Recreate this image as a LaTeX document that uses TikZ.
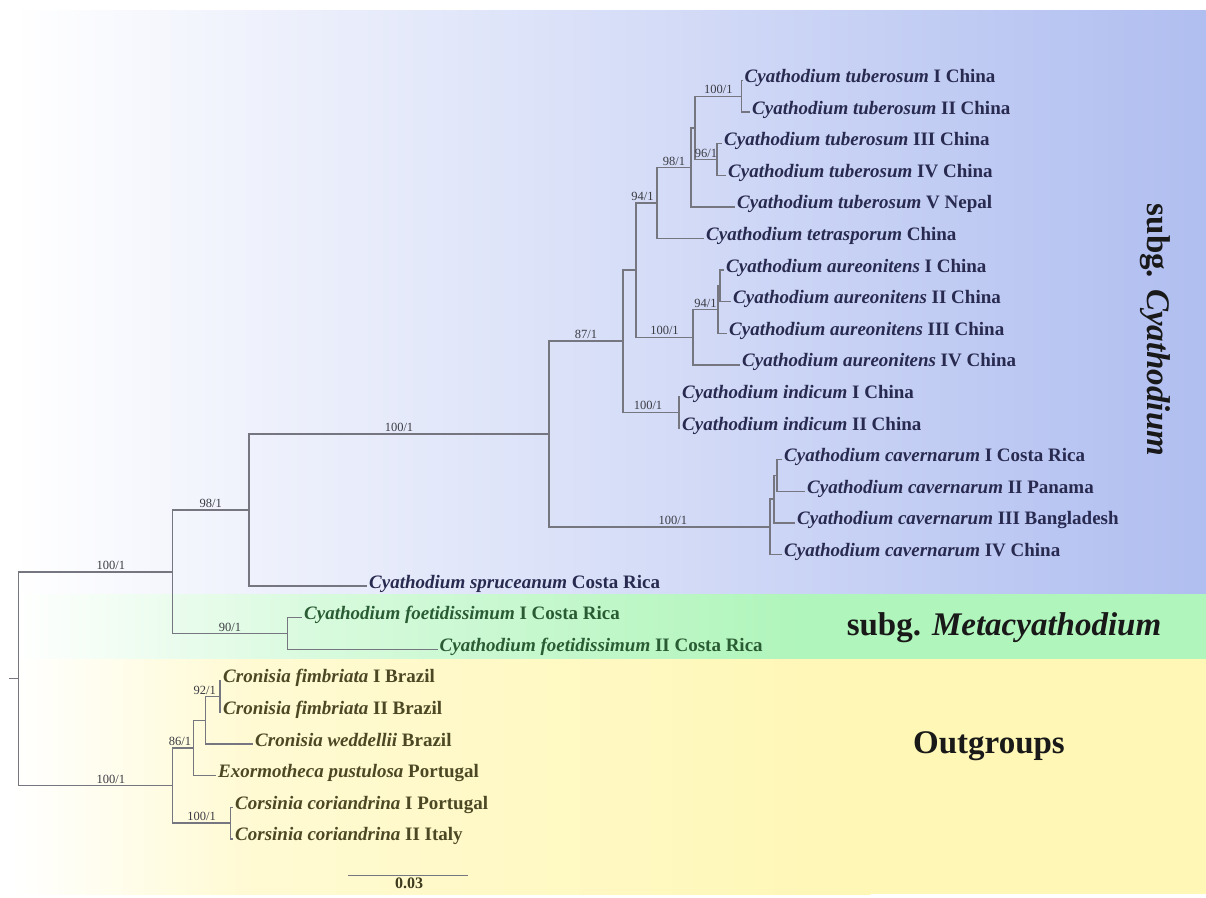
\documentclass[tikz,border=0pt]{standalone}
\usepackage{fontspec}
\setmainfont{Liberation Serif}
\usepackage{xcolor}
\usepackage{tikz}

\definecolor{bandblue}{RGB}{176,190,240}
\definecolor{bandgreen}{RGB}{176,245,187}
\definecolor{bandyellow}{RGB}{255,247,181}
\definecolor{branchgray}{RGB}{118,118,128}
\definecolor{navytext}{RGB}{40,42,80}
\definecolor{greentext}{RGB}{42,92,52}
\definecolor{olivetext}{RGB}{76,72,36}
\definecolor{supgray}{RGB}{58,58,66}

\begin{document}
\begin{tikzpicture}[
  x=1pt, y=-1pt,
  leaf/.style={anchor=west, inner sep=2pt, text height=9pt, text depth=5pt,
    font=\fontsize{19}{20}\selectfont\bfseries},
  branch/.style={draw=branchgray, line width=1.5pt},
  sup/.style={above, inner sep=1.5pt, pos=0.75,
    font=\fontsize{12.5}{12.5}\selectfont, text=supgray},
  grouplabel/.style={font=\fontsize{33}{36}\selectfont\bfseries, text=black!90}
]
\useasboundingbox (0,0) rectangle (1206,897);

% Background bands
\shade[left color=white, right color=bandblue] (12,10) rectangle (1206,594.5);
\shade[left color=white, right color=bandgreen!50!white] (12,594) rectangle (320.5,659.5);
\shade[left color=bandgreen!50!white, right color=bandgreen] (320,594) rectangle (800.5,659.5);
\fill[bandgreen] (800,594) rectangle (1206,659.5);
\shade[left color=white, right color=bandyellow!60!white] (12,659) rectangle (250.5,894);
\shade[left color=bandyellow!60!white, right color=bandyellow] (250,659) rectangle (870.5,894);
\fill[bandyellow] (870,659) rectangle (1206,894);

% Internal nodes
\coordinate (tuA) at (741.7,96.3);
\coordinate (tuB) at (717,159.5);
\coordinate (tuC) at (695,127.9);
\coordinate (tuD) at (691,167.4);
\coordinate (tuE) at (657,203.0);
\coordinate (auA) at (720,285.9);
\coordinate (auB) at (718,309.6);
\coordinate (auC) at (693,337.3);
\coordinate (cbF) at (636,270.1);
\coordinate (inA) at (679,412.3);
\coordinate (cbG) at (623,341.2);
\coordinate (caA) at (777,475.5);
\coordinate (caB) at (774,499.2);
\coordinate (caC) at (770,526.9);
\coordinate (cbJ) at (549,434.0);
\coordinate (cbK) at (249,510.1);
\coordinate (foA) at (287.5,633.5);
\coordinate (cbL) at (172.5,571.8);
\coordinate (crA) at (220,696.7);
\coordinate (crB) at (205.7,720.4);
\coordinate (crC) at (193.3,748.1);
\coordinate (coA) at (230.7,823.1);
\coordinate (ogN) at (172.7,785.6);
\coordinate (root) at (18.3,678.7);
\coordinate (stub) at (9.3,678.7);

% Leaves
\node[leaf, text=navytext] (tub1) at (742.5,80.5) {\textit{Cyathodium tuberosum} I China};
\node[leaf, text=navytext] (tub2) at (750,112.1) {\textit{Cyathodium tuberosum} II China};
\node[leaf, text=navytext] (tub3) at (722,143.7) {\textit{Cyathodium tuberosum} III China};
\node[leaf, text=navytext] (tub4) at (726,175.3) {\textit{Cyathodium tuberosum} IV China};
\node[leaf, text=navytext] (tub5) at (735,206.9) {\textit{Cyathodium tuberosum} V Nepal};
\node[leaf, text=navytext] (tetra) at (704,238.5) {\textit{Cyathodium tetrasporum} China};
\node[leaf, text=navytext] (aur1) at (724,270.1) {\textit{Cyathodium aureonitens} I China};
\node[leaf, text=navytext] (aur2) at (731,301.7) {\textit{Cyathodium aureonitens} II China};
\node[leaf, text=navytext] (aur3) at (727,333.3) {\textit{Cyathodium aureonitens} III China};
\node[leaf, text=navytext] (aur4) at (740,364.9) {\textit{Cyathodium aureonitens} IV China};
\node[leaf, text=navytext] (ind1) at (680,396.5) {\textit{Cyathodium indicum} I China};
\node[leaf, text=navytext] (ind2) at (680,428.1) {\textit{Cyathodium indicum} II China};
\node[leaf, text=navytext] (cav1) at (782,459.7) {\textit{Cyathodium cavernarum} I Costa Rica};
\node[leaf, text=navytext] (cav2) at (805,491.3) {\textit{Cyathodium cavernarum} II Panama};
\node[leaf, text=navytext] (cav3) at (795,522.9) {\textit{Cyathodium cavernarum} III Bangladesh};
\node[leaf, text=navytext] (cav4) at (782,554.5) {\textit{Cyathodium cavernarum} IV China};
\node[leaf, text=navytext] (spru) at (367,586.1) {\textit{Cyathodium spruceanum} Costa Rica};
\node[leaf, text=greentext] (foe1) at (302,617.7) {\textit{Cyathodium foetidissimum} I Costa Rica};
\node[leaf, text=greentext] (foe2) at (437.5,649.3) {\textit{Cyathodium foetidissimum} II Costa Rica};
\node[leaf, text=olivetext] (fim1) at (221,680.9) {\textit{Cronisia fimbriata} I Brazil};
\node[leaf, text=olivetext] (fim2) at (221,712.5) {\textit{Cronisia fimbriata} II Brazil};
\node[leaf, text=olivetext] (wed) at (253,744.1) {\textit{Cronisia weddellii} Brazil};
\node[leaf, text=olivetext] (exo) at (216,775.7) {\textit{Exormotheca pustulosa} Portugal};
\node[leaf, text=olivetext] (cor1) at (233,807.3) {\textit{Corsinia coriandrina} I Portugal};
\node[leaf, text=olivetext] (cor2) at (233,838.9) {\textit{Corsinia coriandrina} II Italy};

% subg. Cyathodium
\draw[branch] (tuA) |- (tub1.west);
\draw[branch] (tuA) |- (tub2.west);
\draw[branch] (tuB) |- (tub3.west);
\draw[branch] (tuB) |- (tub4.west);
\draw[branch] (tuC) |- node[sup] {100/1} (tuA);
\draw[branch] (tuC) |- node[sup] {96/1} (tuB);
\draw[branch] (tuD) |- (tuC);
\draw[branch] (tuD) |- (tub5.west);
\draw[branch] (tuE) |- node[sup] {98/1} (tuD);
\draw[branch] (tuE) |- (tetra.west);
\draw[branch] (auA) |- (aur1.west);
\draw[branch] (auA) |- (aur2.west);
\draw[branch] (auB) |- (auA);
\draw[branch] (auB) |- (aur3.west);
\draw[branch] (auC) |- node[sup] {94/1} (auB);
\draw[branch] (auC) |- (aur4.west);
\draw[branch] (cbF) |- node[sup, xshift=-4pt] {94/1} (tuE);
\draw[branch] (cbF) |- node[sup] {100/1} (auC);
\draw[branch] (inA) |- (ind1.west);
\draw[branch] (inA) |- (ind2.west);
\draw[branch] (cbG) |- (cbF);
\draw[branch] (cbG) |- node[sup, xshift=-3pt] {100/1} (inA);
\draw[branch] (caA) |- (cav1.west);
\draw[branch] (caA) |- (cav2.west);
\draw[branch] (caB) |- (caA);
\draw[branch] (caB) |- (cav3.west);
\draw[branch] (caC) |- (caB);
\draw[branch] (caC) |- (cav4.west);
\draw[branch] (cbJ) |- node[sup] {87/1} (cbG);
\draw[branch] (cbJ) |- node[sup, pos=0.78] {100/1} (caC);
\draw[branch] (cbK) |- node[sup] {100/1} (cbJ);
\draw[branch] (cbK) |- (spru.west);

% subg. Metacyathodium
\draw[branch] (foA) |- (foe1.west);
\draw[branch] (foA) |- (foe2.west);
\draw[branch] (cbL) |- node[sup] {98/1} (cbK);
\draw[branch] (cbL) |- node[sup] {90/1} (foA);

% Outgroups
\draw[branch] (crA) |- (fim1.west);
\draw[branch] (crA) |- (fim2.west);
\draw[branch] (crB) |- node[sup, xshift=-8pt] {92/1} (crA);
\draw[branch] (crB) |- (wed.west);
\draw[branch] (crC) |- (crB);
\draw[branch] (crC) |- (exo.west);
\draw[branch] (coA) |- (cor1.west);
\draw[branch] (coA) |- (cor2.west);
\draw[branch] (ogN) |- node[sup, xshift=-3pt] {86/1} (crC);
\draw[branch] (ogN) |- node[sup] {100/1} (coA);
\draw[branch] (root) |- node[sup, pos=0.8] {100/1} (cbL);
\draw[branch] (root) |- node[sup, pos=0.8] {100/1} (ogN);
\draw[branch] (stub) -- (root);

% Scale bar
\coordinate (sbL) at (348,875);
\coordinate (sbR) at (468,875);
\draw[branch, line width=1pt] (sbL) -- (sbR);
\node[font=\fontsize{16}{16}\selectfont\bfseries, text=olivetext!80!black, anchor=north, inner sep=1pt]
  (sbText) at (409,877) {0.03};

% Group labels
\node[grouplabel, rotate=-90] (gCya) at (1155,330) {subg. \textit{Cyathodium}};
\node[grouplabel] (gMeta) at (1004,628) {subg. \textit{Metacyathodium}};
\node[grouplabel] (gOut) at (989,746) {Outgroups};
\end{tikzpicture}
\end{document}
